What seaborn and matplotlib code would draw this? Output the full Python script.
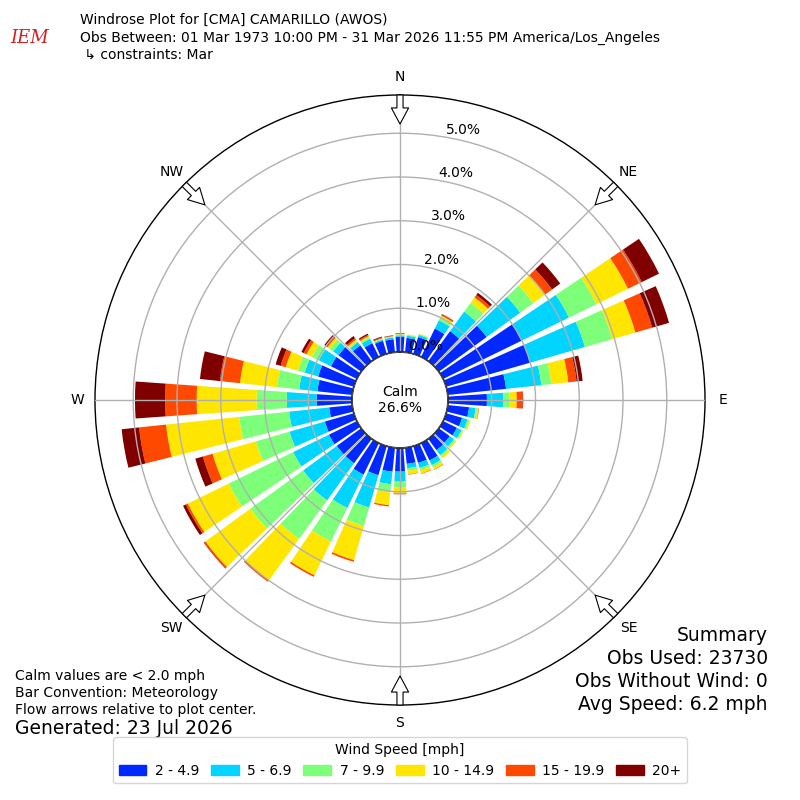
import numpy as np
import matplotlib
matplotlib.use("Agg")
import matplotlib.pyplot as plt
from matplotlib.patches import Patch, Circle
import seaborn as sns

# wind direction bins (deg, meteorological)
directions = list(range(0, 360, 10))

# percent of obs in each speed bin, per direction
spd_2_5 = [0.35, 0.33, 0.40, 0.72, 0.85, 1.35, 2.00, 2.00, 1.34, 0.89,
           0.49, 0.38, 0.35, 0.31, 0.32, 0.44, 0.40, 0.37, 0.54, 0.55,
           0.69, 0.80, 0.69, 0.69, 0.71, 0.69, 0.53, 0.81, 0.80, 0.85,
           0.66, 0.64, 0.45, 0.35, 0.31, 0.30]
spd_5_7 = [0.03, 0.05, 0.05, 0.21, 0.55, 0.95, 1.20, 1.30, 0.81, 0.37,
           0.15, 0.13, 0.12, 0.12, 0.14, 0.12, 0.12, 0.10, 0.23, 0.29,
           0.77, 0.85, 1.05, 0.95, 0.91, 0.84, 0.92, 0.68, 0.42, 0.32,
           0.31, 0.15, 0.09, 0.11, 0.03, 0.04]
spd_7_10 = [0.02, 0.02, 0.02, 0.07, 0.25, 0.37, 0.70, 0.65, 0.23, 0.14,
            0.04, 0.04, 0.03, 0.04, 0.04, 0.05, 0.05, 0.06, 0.14, 0.19,
            0.44, 0.85, 1.09, 1.49, 1.64, 0.80, 1.15, 0.69, 0.51, 0.16,
            0.17, 0.10, 0.03, 0.04, 0.02, 0.02]
spd_10_15 = [0.01, 0.01, 0.01, 0.05, 0.15, 0.33, 0.80, 0.55, 0.39, 0.17,
             0.03, 0.03, 0.02, 0.03, 0.05, 0.06, 0.08, 0.08, 0.13, 0.29,
             0.81, 0.86, 1.17, 1.27, 1.04, 1.03, 1.68, 1.37, 0.85, 0.29,
             0.14, 0.06, 0.04, 0.03, 0.01, 0.01]
spd_15_20 = [0.01, 0.00, 0.00, 0.03, 0.07, 0.20, 0.35, 0.40, 0.19, 0.14,
             0.01, 0.00, 0.00, 0.00, 0.00, 0.01, 0.01, 0.01, 0.02, 0.03,
             0.04, 0.04, 0.04, 0.04, 0.05, 0.23, 0.62, 0.72, 0.46, 0.12,
             0.07, 0.04, 0.04, 0.03, 0.02, 0.01]
spd_20 = [0.01, 0.00, 0.00, 0.01, 0.06, 0.23, 0.44, 0.40, 0.14, 0.01,
          0.00, 0.00, 0.00, 0.00, 0.00, 0.00, 0.00, 0.00, 0.00, 0.00,
          0.00, 0.00, 0.00, 0.01, 0.07, 0.18, 0.40, 0.69, 0.46, 0.12,
          0.06, 0.05, 0.06, 0.03, 0.02, 0.01]

speed_labels = ["2 - 4.9", "5 - 6.9", "7 - 9.9", "10 - 14.9", "15 - 19.9", "20+"]
speed_colors = ["#0028ff", "#00d4ff", "#7dff7a", "#ffe600", "#ff4800", "#800000"]

calm_pct = 26.6
ring_ticks = [0, 1, 2, 3, 4, 5]
compass = ["N", "NE", "E", "SE", "S", "SW", "W", "NW"]

sns.set_theme(style="white")
plt.rcParams["font.family"] = ["DejaVu Sans"]
plt.rcParams["text.color"] = "black"
plt.rcParams["xtick.color"] = "black"
plt.rcParams["ytick.color"] = "black"

fig = plt.figure(figsize=(8, 8), dpi=100)
ax = fig.add_axes([0.11875, 0.11875, 0.7625, 0.7625], projection="polar")
ax.set_theta_zero_location("N")
ax.set_theta_direction(-1)

theta = np.deg2rad(directions)
width = np.deg2rad(8)
palette = sns.color_palette(speed_colors)
series = [spd_2_5, spd_5_7, spd_7_10, spd_10_15, spd_15_20, spd_20]
bottom = np.zeros(len(directions))
for vals, col in zip(series, palette):
    vals = np.array(vals)
    ax.bar(theta, vals, width=width, bottom=bottom, color=col,
           linewidth=0, zorder=1)
    bottom = bottom + vals

# radial scale: calm circle sits at the 0 ring
ax.set_rorigin(-1.097)
ax.set_ylim(0, 5.874)
ax.set_yticks(ring_ticks)
ax.set_yticklabels([])
ax.set_xticks(np.deg2rad(np.arange(0, 360, 45)))
ax.set_xticklabels([])
ax.set_axisbelow(False)
ax.grid(True, color="#b0b0b0", linewidth=1)
ax.spines["polar"].set_color("black")
ax.spines["polar"].set_linewidth(1)
ax.spines["inner"].set_visible(False)

for r in ring_ticks:
    ax.text(np.deg2rad(10), r, f"{r:.1f}%", ha="left", va="bottom",
            fontsize=10, color="black", zorder=6)

for i, lab in enumerate(compass):
    th = np.deg2rad(i * 45)
    ax.text(th, 6.285, lab, ha="center", va="center", fontsize=10, color="black")
    ax.annotate("", xy=(th, 5.21), xytext=(th, 5.874),
                arrowprops=dict(arrowstyle="simple,head_length=0.58,head_width=0.62,tail_width=0.22",
                                fc="white", ec="black", lw=0.8,
                                shrinkA=0, shrinkB=0, mutation_scale=20),
                zorder=7)

calm = Circle((0.5, 0.5), 48 / 610, transform=ax.transAxes, fc="white",
              ec="black", lw=1, zorder=8)
ax.add_patch(calm)
ax.text(0.5, 0.5, f"Calm\n{calm_pct:.1f}%", transform=ax.transAxes,
        ha="center", va="center", fontsize=10, color="black", zorder=9)

# header
fig.text(0.037, 0.952, "IEM", color="#d42020", fontsize=13, style="italic",
         family="serif", ha="center", va="center")
fig.text(0.1, 0.975, "Windrose Plot for [CMA] CAMARILLO (AWOS)", fontsize=10, va="center")
fig.text(0.1, 0.953, "Obs Between: 01 Mar 1973 10:00 PM - 31 Mar 2026 11:55 PM America/Los_Angeles",
         fontsize=10, va="center")
fig.text(0.1, 0.932, " \u21b3 constraints: Mar", fontsize=10, va="center")

# footer notes
fig.text(0.019, 0.155, "Calm values are < 2.0 mph", fontsize=10, va="center")
fig.text(0.019, 0.134, "Bar Convention: Meteorology", fontsize=10, va="center")
fig.text(0.019, 0.112, "Flow arrows relative to plot center.", fontsize=10, va="center")
fig.text(0.019, 0.089, "Generated: 23 Jul 2026", fontsize=13.5, va="center")

summary = ["Summary", "Obs Used: 23730", "Obs Without Wind: 0", "Avg Speed: 6.2 mph"]
for k, line in enumerate(summary):
    fig.text(0.96, 0.206 - k * 0.029, line, fontsize=13.5, ha="right", va="center")

handles = [Patch(color=c, label=l) for c, l in zip(palette, speed_labels)]
fig.legend(handles=handles, loc="lower center", bbox_to_anchor=(0.5, 0.012),
           ncol=6, title="Wind Speed [mph]", fontsize=10, title_fontsize=10,
           columnspacing=0.85, handletextpad=0.6, labelcolor="black",
           frameon=True, edgecolor="#cccccc")

fig.savefig("out.png", dpi=100)
